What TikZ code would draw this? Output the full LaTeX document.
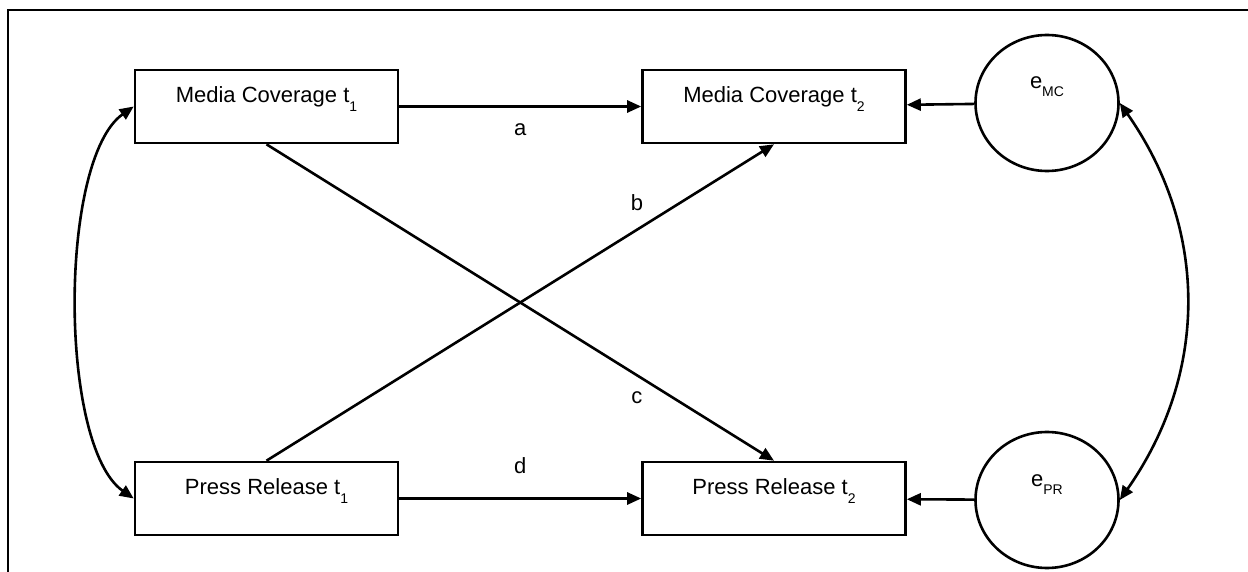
\documentclass[tikz,border=0pt]{standalone}
\usepackage{fontspec}
\setmainfont{Liberation Sans}
\usetikzlibrary{arrows.meta,shapes.geometric}
\newcommand{\lowsub}[1]{\raisebox{-9pt}{\fontsize{14}{14}\selectfont #1}}
\newcommand{\errsub}[1]{\raisebox{-8pt}{\fontsize{14}{14}\selectfont #1}}

\begin{document}
\begin{tikzpicture}[x=1pt, y=-1pt, line width=2.6pt,
      >={Triangle[length=14pt,width=12pt]},
      every node/.append style={font=\fontsize{22}{26}\selectfont}]
    \tikzstyle{var} = [draw, minimum width=263pt, minimum height=73pt, inner sep=0pt,
                       text height=0pt, text depth=8pt]
    \tikzstyle{err} = [draw, ellipse, minimum width=143pt, minimum height=136pt, inner sep=0pt,
                       text height=0pt, text depth=28pt]
    \tikzstyle{effect} = [->]
    \useasboundingbox (0,0) rectangle (1248,572);
    % frame of the figure
    \draw[line width=1.8pt] (8,572) -- (8,10) -- (1248,10);
    % observed variables
    \node [var] (mc1) at (266.5,106.5) {Media Coverage t\lowsub{1}};
    \node [var] (mc2) at (774,106.5) {Media Coverage t\lowsub{2}};
    \node [var] (pr1) at (266.5,498.5) {Press Release t\lowsub{1}};
    \node [var] (pr2) at (774,498.5) {Press Release t\lowsub{2}};
    % residuals
    \node [err] (emc) at (1047,103) {e\errsub{MC}};
    \node [err] (epr) at (1047,500) {e\errsub{PR}};
    % paths
    \draw [effect] (mc1) -- node [below=13pt] {a} (mc2);
    \draw [effect] (pr1.north) -- node [pos=0.73, above=14pt] {b} (mc2.south);
    \draw [effect] (mc1.south) -- node [pos=0.73, below=12pt] {c} (pr2.north);
    \draw [effect] (pr1) -- node [above=20pt] {d} (pr2);
    \draw [effect] (emc) -- (mc2);
    \draw [effect] (epr) -- (pr2);
    % covariances
    \draw [<->] (mc1.west) to [out=215, in=145, looseness=0.6] (pr1.west);
    \draw [<->] (emc.east) to [out=-55, in=55, looseness=1] (epr.east);
\end{tikzpicture}
\end{document}
